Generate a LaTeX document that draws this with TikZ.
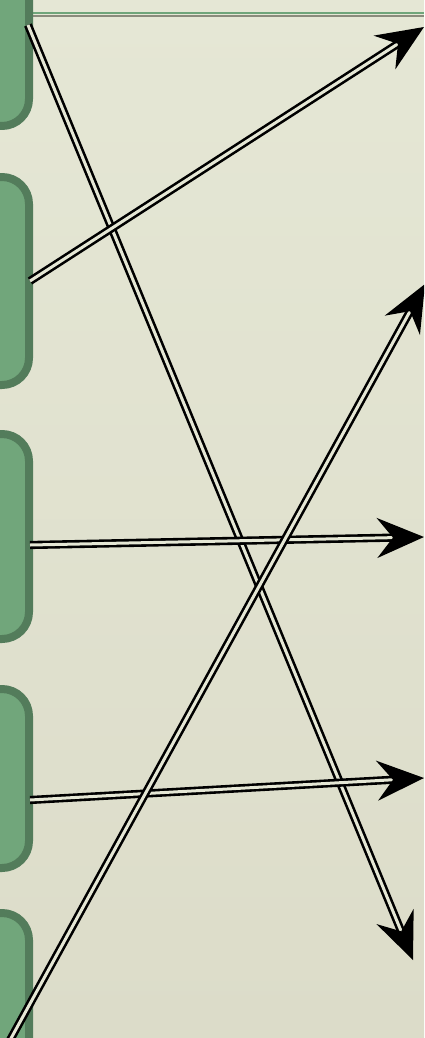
\documentclass[tikz,border=0pt]{standalone}
\usetikzlibrary{arrows.meta}
\definecolor{bgtop}{HTML}{E5E7D5}
\definecolor{bgbot}{HTML}{DCDCC9}
\definecolor{boxfill}{HTML}{71A67B}
\definecolor{boxline}{HTML}{537C5B}
\definecolor{rulegreen}{HTML}{6FA57A}
\definecolor{rulegray}{HTML}{8A8B7C}
\tikzset{
  tab/.style={fill=boxfill, draw=boxline, line width=8pt, rounded corners=27pt},
  link/.style={draw=black, double=bgtop, double distance=3pt, line width=2.6pt,
    -{Stealth[length=47pt, width=40pt, inset=16pt]}},
}
\begin{document}
\begin{tikzpicture}[x=1pt, y=-1pt]
\useasboundingbox (0,0) rectangle (424,1038);
\clip (0,0) rectangle (424,1038);
\shade[top color=bgtop, bottom color=bgbot] (0,0) rectangle (424,1038);
% top rule
\draw[rulegreen, line width=2pt] (33,12.8) -- (424,12.8);
\draw[rulegray, line width=2pt] (33,15.6) -- (424,15.6);
% tabs
\path[tab] (-60,-100) rectangle (29,126);
\path[tab] (-60,177) rectangle (29,385);
\path[tab] (-60,434) rectangle (29,639);
\path[tab] (-60,689) rectangle (29,868);
\path[tab] (-60,913) rectangle (29,1140);
% anchor coordinates
\coordinate (s1) at (28,25);
\coordinate (e1) at (413,960);
\coordinate (s2) at (30,281);
\coordinate (e2) at (424,27);
\coordinate (s3) at (30,545);
\coordinate (e3) at (424,537);
\coordinate (s4) at (30,800);
\coordinate (e4) at (424,778);
\coordinate (s5) at (9,1042);
\coordinate (e5) at (425,284);
\draw[link] (s1) -- (e1);
\draw[link] (s2) -- (e2);
\draw[link] (s3) -- (e3);
\draw[link] (s4) -- (e4);
\draw[link] (s5) -- (e5);
\end{tikzpicture}
\end{document}
